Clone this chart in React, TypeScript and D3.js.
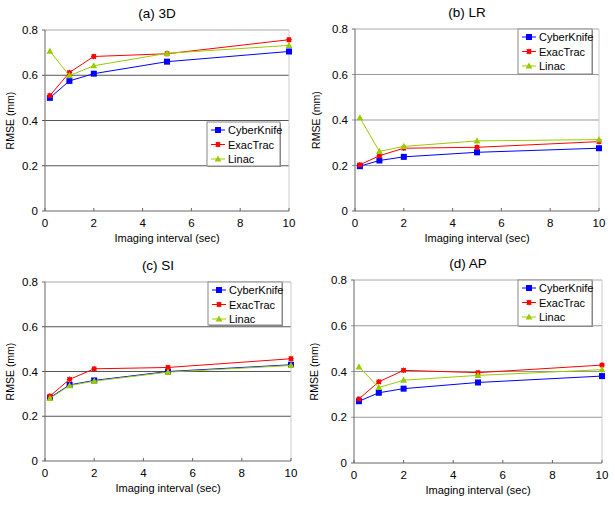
import React from "react";
import * as d3 from "d3";

const intervals = [0.2, 1, 2, 5, 10];
const seriesNames = ["CyberKnife", "ExacTrac", "Linac"];
const xTicks = [0, 2, 4, 6, 8, 10];
const yTicks = [0, 0.2, 0.4, 0.6, 0.8];
const yTickLabels = ["0", "0.2", "0.4", "0.6", "0.8"];

const ck3D = [0.5, 0.575, 0.607, 0.66, 0.705];
const et3D = [0.51, 0.612, 0.683, 0.695, 0.757];
const li3D = [0.707, 0.598, 0.642, 0.697, 0.732];

const ckLR = [0.197, 0.222, 0.238, 0.258, 0.276];
const etLR = [0.203, 0.243, 0.276, 0.28, 0.305];
const liLR = [0.41, 0.262, 0.284, 0.308, 0.314];

const ckSI = [0.283, 0.34, 0.36, 0.4, 0.43];
const etSI = [0.29, 0.365, 0.412, 0.418, 0.457];
const liSI = [0.28, 0.337, 0.357, 0.397, 0.427];

const ckAP = [0.27, 0.307, 0.325, 0.352, 0.38];
const etAP = [0.28, 0.355, 0.405, 0.395, 0.428];
const liAP = [0.42, 0.33, 0.362, 0.383, 0.408];

const titles = ["(a) 3D", "(b) LR", "(c) SI", "(d) AP"];
const xLabel = "Imaging interval (sec)";
const yLabel = "RMSE (mm)";

const colors = ["#0000ff", "#ff0000", "#99cc00"];
const FONT = "'Liberation Sans', Arial, Helvetica, sans-serif";

type Layout = {
  left: number; right: number; top: number; bottom: number;
  legX: number; legY: number; legW: number; legH: number;
  yLabX: number; gridColor: string;
};

const layouts: Layout[] = [
  { left: 45, right: 289, top: 30, bottom: 211, legX: 207, legY: 122, legW: 73, legH: 44, yLabX: 14, gridColor: "#555" },
  { left: 355, right: 599, top: 29, bottom: 211, legX: 518, legY: 29, legW: 74, legH: 45, yLabX: 320, gridColor: "#999" },
  { left: 45, right: 291, top: 282, bottom: 461, legX: 208, legY: 282, legW: 74, legH: 43, yLabX: 14, gridColor: "#555" },
  { left: 354, right: 602, top: 280, bottom: 463, legX: 518, legY: 280, legW: 74, legH: 46, yLabX: 318, gridColor: "#999" },
];

const panelData = [
  [ck3D, et3D, li3D],
  [ckLR, etLR, liLR],
  [ckSI, etSI, liSI],
  [ckAP, etAP, liAP],
];

function Marker({ kind, x, y, color }: { kind: number; x: number; y: number; color: string }) {
  if (kind === 0) return <rect x={x - 3} y={y - 3} width={6} height={6} fill={color} />;
  if (kind === 1) {
    const r = 3;
    return (
      <g>
        <path d={`M${x},${y - r}L${x + r},${y}L${x},${y + r}L${x - r},${y}Z`} fill={color} />
        <path d={`M${x - 2.2},${y - 2.2}L${x + 2.2},${y + 2.2}M${x + 2.2},${y - 2.2}L${x - 2.2},${y + 2.2}`} stroke={color} strokeWidth={1.3} />
      </g>
    );
  }
  return <path d={`M${x},${y - 3.6}L${x + 3.4},${y + 2.6}L${x - 3.4},${y + 2.6}Z`} fill={color} />;
}

function Panel({ idx }: { idx: number }) {
  const L = layouts[idx];
  const data = panelData[idx];
  const x = d3.scaleLinear().domain([0, 10]).range([L.left, L.right]);
  const y = d3.scaleLinear().domain([0, 0.8]).range([L.bottom, L.top]);
  const line = d3.line<number>().x((_, i) => x(intervals[i])).y((d) => y(d));
  const cx = (L.left + L.right) / 2;
  return (
    <g fontFamily={FONT}>
      <text x={cx - 10} y={L.top - 12} fontSize={13.5} textAnchor="middle" fill="#000">{titles[idx]}</text>
      {yTicks.slice(1, 4).map((t) => (
        <line key={t} x1={L.left - 3} x2={L.right} y1={y(t)} y2={y(t)} stroke={L.gridColor} strokeWidth={1} />
      ))}
      <line x1={L.left} x2={L.right} y1={y(0.8)} y2={y(0.8)} stroke="#aaa" />
      <line x1={L.right} x2={L.right} y1={L.top} y2={L.bottom} stroke="#ccc" />
      <line x1={L.left - 3} x2={L.left} y1={y(0.8)} y2={y(0.8)} stroke="#666" />
      <line x1={L.left - 3} x2={L.left} y1={y(0)} y2={y(0)} stroke="#666" />
      <line x1={L.left} x2={L.left} y1={L.top} y2={L.bottom} stroke="#666" />
      <line x1={L.left} x2={L.right} y1={L.bottom} y2={L.bottom} stroke="#666" />
      {xTicks.map((t) => (
        <g key={t}>
          <line x1={x(t)} x2={x(t)} y1={L.bottom} y2={L.bottom - 3} stroke="#666" />
          <text x={x(t)} y={L.bottom + 16} fontSize={11.5} textAnchor="middle" fill="#000">{t}</text>
        </g>
      ))}
      {yTicks.map((t, i) => (
        <text key={t} x={L.left - 7} y={y(t) + 4} fontSize={11.5} textAnchor="end" fill="#000">{yTickLabels[i]}</text>
      ))}
      <text x={cx} y={L.bottom + 31} fontSize={11} textAnchor="middle" fill="#000">{xLabel}</text>
      <text transform={`translate(${L.yLabX},${(L.top + L.bottom) / 2}) rotate(-90)`} fontSize={10.5} textAnchor="middle" fill="#000">{yLabel}</text>
      {data.map((s, si) => (
        <g key={si}>
          <path d={line(s) || ""} fill="none" stroke={colors[si]} strokeWidth={1} />
          {s.map((v, i) => (
            <Marker key={i} kind={si} x={x(intervals[i])} y={y(v)} color={colors[si]} />
          ))}
        </g>
      ))}
      <rect x={L.legX + 1} y={L.legY + 1} width={L.legW} height={L.legH} fill="#888" />
      <rect x={L.legX} y={L.legY} width={L.legW} height={L.legH} fill="#fff" stroke="#888" />
      {seriesNames.map((n, i) => {
        const ly = L.legY + 8 + i * 14.5;
        return (
          <g key={n}>
            <line x1={L.legX + 4} x2={L.legX + 18} y1={ly} y2={ly} stroke={colors[i]} />
            <Marker kind={i} x={L.legX + 11} y={ly} color={colors[i]} />
            <text x={L.legX + 21} y={ly + 4} fontSize={11} fill="#000">{n}</text>
          </g>
        );
      })}
    </g>
  );
}

export default function App() {
  return (
    <svg width={615} height={505} style={{ position: "absolute", left: 0, top: 0, background: "#fff" }}>
      <rect width={615} height={505} fill="#fff" />
      {[0, 1, 2, 3].map((i) => <Panel key={i} idx={i} />)}
    </svg>
  );
}
